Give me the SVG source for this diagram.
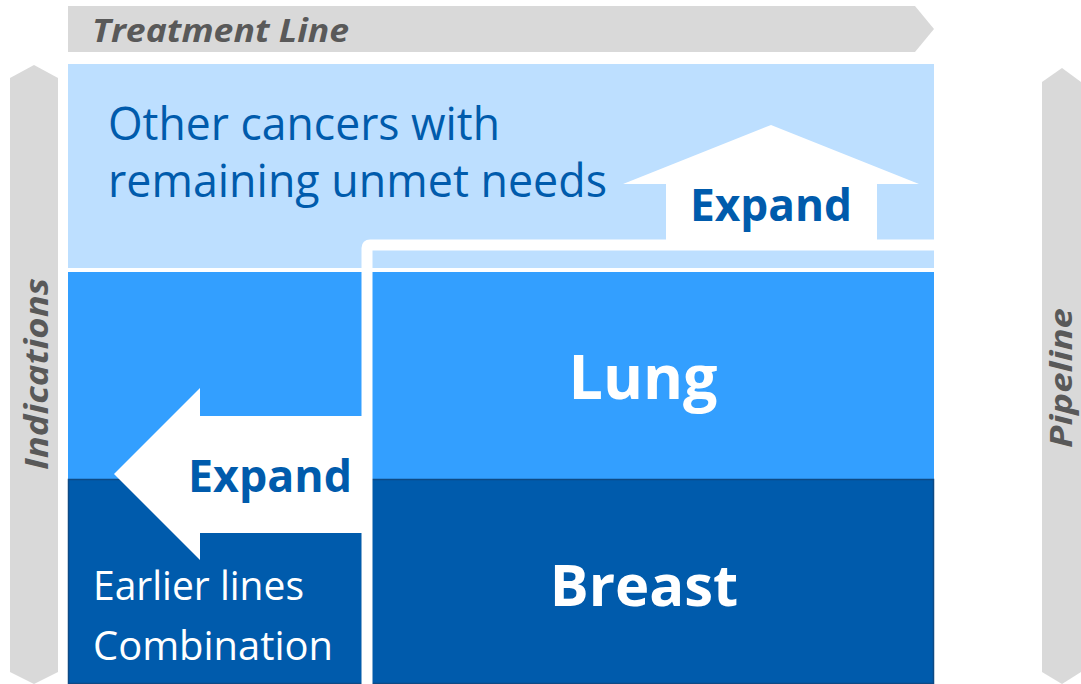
<svg xmlns="http://www.w3.org/2000/svg" width="1081" height="684" viewBox="0 0 1081 684">
<style>
.gray{fill:#D9D9D9}
.lbl{font-family:"Open Sans","Noto Sans",sans-serif;font-weight:700;font-style:italic;fill:#595959}
.reg{font-family:"Open Sans","Noto Sans",sans-serif;font-weight:400}
.bold{font-family:"Open Sans","Noto Sans",sans-serif;font-weight:700}
.wht{fill:#FFFFFF}
.blu{fill:#005BAC}
</style>
<rect width="1081" height="684" fill="#FFFFFF"/>
<g id="treatment-line">
<polygon class="gray" points="68,6 915,6 934,29 915,52 68,52"/>
<text class="lbl" x="92" y="42" font-size="32" textLength="257" lengthAdjust="spacingAndGlyphs">Treatment Line</text>
</g>
<g id="indications">
<polygon class="gray" points="10,78 34,65 58,78 58,672 34,684 10,672"/>
<text class="lbl" transform="translate(48,374) rotate(-90)" text-anchor="middle" font-size="32" textLength="192" lengthAdjust="spacingAndGlyphs">Indications</text>
</g>
<g id="pipeline">
<polygon class="gray" points="1042,82 1062,68 1081,82 1081,672 1062,684 1042,672"/>
<text class="lbl" transform="translate(1072,378) rotate(-90)" text-anchor="middle" font-size="31" textLength="140" lengthAdjust="spacingAndGlyphs">Pipeline</text>
</g>
<g id="other-cancers">
<rect x="68" y="64" width="866" height="204" fill="#BDDFFF"/>
<text class="reg blu" x="108" y="140" font-size="45" textLength="392" lengthAdjust="spacingAndGlyphs">Other cancers with</text>
<text class="reg blu" x="108" y="197" font-size="45" textLength="499" lengthAdjust="spacingAndGlyphs">remaining unmet needs</text>
</g>
<g id="lung">
<rect x="68" y="272" width="866" height="207" fill="#339FFF"/>
<text class="bold wht" x="643" y="399" font-size="61" text-anchor="middle">Lung</text>
</g>
<g id="earlier-lines">
<rect x="68.5" y="479.5" width="294" height="204" fill="#005BAC" stroke="#0D4A85" stroke-width="1.5"/>
<text class="reg wht" x="93" y="600" font-size="40" textLength="211" lengthAdjust="spacingAndGlyphs">Earlier lines</text>
<text class="reg wht" x="93" y="660" font-size="40" textLength="240" lengthAdjust="spacingAndGlyphs">Combination</text>
</g>
<g id="breast">
<rect x="371.5" y="479.5" width="562" height="204" fill="#005BAC" stroke="#0D4A85" stroke-width="1.5"/>
<text class="bold wht" x="644" y="606" font-size="58" text-anchor="middle">Breast</text>
</g>
<g id="connectors">
<path d="M367,684 V248 Q367,245 370,245 H934" fill="none" stroke="#FFFFFF" stroke-width="11"/>
</g>
<g id="expand-up">
<polygon class="wht" points="771,125 919,184 877,184 877,240 666,240 666,184 623,184"/>
<text class="bold blu" x="771" y="221" font-size="45" text-anchor="middle" textLength="162" lengthAdjust="spacingAndGlyphs">Expand</text>
</g>
<g id="expand-left">
<polygon class="wht" points="114,474 200,388 200,416 366,416 366,533 200,533 200,560"/>
<text class="bold blu" x="270" y="492" font-size="45" text-anchor="middle" textLength="164" lengthAdjust="spacingAndGlyphs">Expand</text>
</g>
</svg>
